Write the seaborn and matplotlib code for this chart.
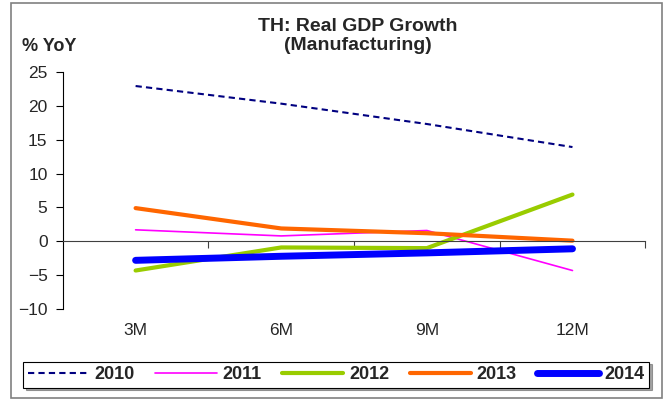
import pandas as pd
import matplotlib
matplotlib.use("Agg")
import matplotlib.pyplot as plt
import seaborn as sns

# data
periods = ["3M", "6M", "9M", "12M"]
y2010 = [22.9, 20.3, 17.3, 13.9]
y2011 = [1.7, 0.8, 1.6, -4.3]
y2012 = [-4.3, -0.9, -1.0, 6.9]
y2013 = [4.9, 1.9, 1.2, 0.1]
y2014 = [-2.8, -2.2, -1.7, -1.1]

series = {"2010": y2010, "2011": y2011, "2012": y2012, "2013": y2013, "2014": y2014}
styles = {
    "2010": dict(color="#000080", lw=1.5, ls=(0, (3, 2))),
    "2011": dict(color="#FF00FF", lw=1.2, ls="-"),
    "2012": dict(color="#99CC00", lw=3.0, ls="-"),
    "2013": dict(color="#FF6600", lw=3.0, ls="-"),
    "2014": dict(color="#0000FF", lw=5.0, ls="-"),
}

sns.set_style("white")
plt.rcParams["font.family"] = ["Liberation Sans", "DejaVu Sans"]

fig = plt.figure(figsize=(6.68, 4.01), dpi=100)
ax = fig.add_axes([0.094, 0.229, 0.872, 0.592])

# outer chart frame
fig.patches.append(plt.Rectangle((0.017, 0.007), 0.974, 0.985, transform=fig.transFigure,
                                 fill=False, edgecolor="#808080", lw=1.2))

for year, vals in series.items():
    df = pd.DataFrame({"period": periods, "value": vals})
    st = styles[year]
    sns.lineplot(data=df, x="period", y="value", ax=ax, color=st["color"],
                 linewidth=st["lw"], linestyle=st["ls"], label=year, sort=False)

ax.set_xlim(-0.5, 3.5)
ax.set_ylim(-10, 25)
ax.set_yticks(range(-10, 30, 5))
ax.set_xlabel("")
ax.set_ylabel("")

for s in ["top", "right"]:
    ax.spines[s].set_visible(False)
ax.spines["left"].set_color("black")
ax.spines["left"].set_linewidth(0.8)
ax.spines["bottom"].set_position(("data", 0))
ax.spines["bottom"].set_color("#404040")
ax.spines["bottom"].set_linewidth(0.8)

ax.set_xticks(range(len(periods)))
ax.set_xticklabels(periods)
ax.set_xticks([0.5, 1.5, 2.5, 3.5], minor=True)
ax.tick_params(axis="x", which="major", length=0, pad=59, labelsize=12.5)
ax.tick_params(axis="x", which="minor", length=5, width=0.8, direction="out", color="#404040", bottom=True)
ax.tick_params(axis="y", length=5, width=0.8, direction="out", left=True, labelsize=12.5,
               color="black", pad=6)

fig.text(0.535, 0.955, "TH: Real GDP Growth\n(Manufacturing)", ha="center", va="top",
         fontsize=14, fontweight="bold", linespacing=1.15)
fig.text(0.033, 0.883, "% YoY", ha="left", va="center", fontsize=13, fontweight="bold")

leg = ax.legend(loc="center", ncol=5, frameon=True, fancybox=False, shadow=True,
                handlelength=3.4, columnspacing=1.15, handletextpad=0.3, borderpad=0.25,
                prop={"weight": "bold", "size": 13})
leg.set_bbox_to_anchor((0.503, 0.066), transform=fig.transFigure)
leg.get_frame().set_edgecolor("black")
leg.get_frame().set_linewidth(0.8)

fig.savefig("out.png", dpi=100)
